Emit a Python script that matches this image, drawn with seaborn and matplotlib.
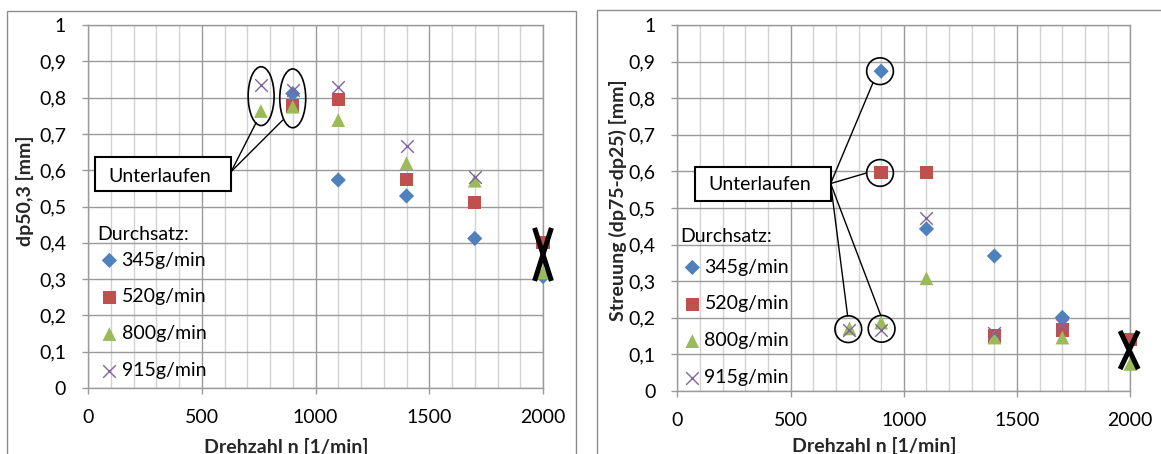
import numpy as np
import pandas as pd
import matplotlib
matplotlib.use('Agg')
import matplotlib.pyplot as plt
import seaborn as sns
from matplotlib.patches import Rectangle, Ellipse

# ---------------- data ----------------
drehzahl = [760, 900, 1100, 1400, 1700, 2000]
series_labels = ['345g/min', '520g/min', '800g/min', '915g/min']

dp50_345 = [np.nan, 0.811, 0.573, 0.529, 0.412, 0.307]
dp50_520 = [np.nan, 0.777, 0.795, 0.575, 0.511, 0.400]
dp50_800 = [0.763, 0.775, 0.738, 0.619, 0.571, 0.318]
dp50_915 = [0.834, 0.822, 0.830, 0.666, 0.582, np.nan]

streu_345 = [np.nan, 0.874, 0.443, 0.369, 0.201, np.nan]
streu_520 = [np.nan, 0.597, 0.597, 0.150, 0.167, 0.141]
streu_800 = [0.171, 0.187, 0.308, 0.146, 0.146, 0.074]
streu_915 = [0.167, 0.168, 0.474, 0.159, 0.180, np.nan]

x_ticks = [0, 500, 1000, 1500, 2000]
y_ticks = [0, 0.1, 0.2, 0.3, 0.4, 0.5, 0.6, 0.7, 0.8, 0.9, 1.0]
y_ticklabels = ['0', '0,1', '0,2', '0,3', '0,4', '0,5', '0,6', '0,7', '0,8', '0,9', '1']

# ---------------- style ----------------
colors = ['#4F81BD', '#C0504D', '#9BBB59', '#8064A2']
markers = ['D', 's', '^', 'x']
msizes = [60, 92, 98, 82]
FS = 14
GRID = '#9a9a9a'
MINOR = '#d2d2d2'

sns.set_theme(style='white')
plt.rcParams['font.family'] = ['Lato', 'DejaVu Sans']
plt.rcParams['text.color'] = 'black'

W, H = 1161, 454
fig = plt.figure(figsize=(W / 100, H / 100), dpi=100)
fig.patch.set_facecolor('white')


def px_axes(x0, x1, ytop, ybot):
    return fig.add_axes([x0 / W, 1 - ybot / H, (x1 - x0) / W, (ybot - ytop) / H])


axL = px_axes(88, 543, 25, 388)
axR = px_axes(677.3, 1130.3, 25.1, 391)

# outer chart frames
fig.patches.append(Rectangle((7 / W, -0.1), 569 / W, 1.1 - 11 / H, transform=fig.transFigure,
                             fill=False, edgecolor='#8c8c8c', lw=1.0))
fig.patches.append(Rectangle((597 / W, -0.1), 600 / W, 1.1 - 10.5 / H, transform=fig.transFigure,
                             fill=False, edgecolor='#8c8c8c', lw=1.0))


def style_axes(ax):
    ax.set_xlim(0, 2000)
    ax.set_ylim(0, 1)
    ax.set_xticks(x_ticks)
    ax.set_xticklabels([str(v) for v in x_ticks])
    ax.set_xticks(np.arange(0, 2001, 100), minor=True)
    ax.set_yticks(y_ticks)
    ax.set_yticklabels(y_ticklabels)
    ax.set_axisbelow(True)
    ax.grid(True, which='minor', axis='x', color=MINOR, lw=1.0)
    ax.grid(True, which='major', axis='both', color=GRID, lw=1.0)
    for sp in ax.spines.values():
        sp.set_visible(True)
        sp.set_color(GRID)
        sp.set_linewidth(1.0)
    ax.tick_params(axis='both', which='major', direction='out', length=4.3, width=1.0,
                   color=GRID, labelsize=FS, labelcolor='black', bottom=True, left=True)
    ax.tick_params(axis='x', which='major', pad=11)
    ax.tick_params(axis='y', which='major', pad=11.5)
    ax.tick_params(axis='x', which='minor', length=0, bottom=False)


def draw_series(ax, values_list):
    for lab, vals, c, m, s in zip(series_labels, values_list, colors, markers, msizes):
        df = pd.DataFrame({'n': drehzahl, 'v': vals}).dropna()
        if m == 'x':
            kw = dict(linewidth=1.0)
        else:
            kw = dict(linewidth=0, edgecolor='none')
        sns.scatterplot(data=df, x='n', y='v', ax=ax, color=c, marker=m, s=s,
                        label=lab, zorder=3, clip_on=False, **kw)


def add_legend(ax, anchor, title_xy):
    ax.text(title_xy[0], title_xy[1], 'Durchsatz:', transform=ax.transAxes,
            ha='left', va='center', fontsize=FS, zorder=6)
    leg = ax.legend(loc='upper left', bbox_to_anchor=anchor, frameon=False, borderpad=0,
                    borderaxespad=0, handlelength=0.75, handletextpad=0.25,
                    labelspacing=1.02, fontsize=FS)
    leg.set_zorder(6)


def big_x(ax, xc, ylo, yhi, half):
    for ya, yb in [(yhi, ylo), (ylo, yhi)]:
        ax.plot([xc - half, xc + half], [ya, yb], color='black', lw=3.6,
                solid_capstyle='butt', zorder=7, clip_on=False)


def callout(ax, box, text_xy, ends, start):
    x0, y0, w, h = box
    ax.add_patch(Rectangle((x0, y0), w, h, fill=True, facecolor='white', edgecolor='black',
                           lw=1.5, zorder=6, clip_on=False))
    ax.text(text_xy[0], text_xy[1], 'Unterlaufen', ha='center', va='center',
            fontsize=FS, zorder=7)
    for ex, ey in ends:
        ax.plot([start[0], ex], [start[1], ey], color='black', lw=1.0, zorder=6, clip_on=False)


# ---------------- left chart ----------------
draw_series(axL, [dp50_345, dp50_520, dp50_800, dp50_915])
style_axes(axL)
axL.set_xlabel('Drehzahl n [1/min]', fontsize=FS, fontweight='bold')
axL.set_ylabel('dp50,3 [mm]', fontsize=FS, fontweight='bold')
axL.xaxis.set_label_coords(0.4367, -0.1777)
axL.xaxis.label.set_va('baseline')
axL.yaxis.set_label_coords(-0.1385, 0.5427)
axL.yaxis.label.set_va('center')
add_legend(axL, (0.031, 0.376), (0.020, 0.424))
for (cx, cy) in [(761, 0.804), (900, 0.798)]:
    axL.add_patch(Ellipse((cx, cy), 114, 0.162, fill=False, edgecolor='black', lw=1.2,
                          zorder=6, clip_on=False))
callout(axL, (31, 0.543, 598, 0.093), (314, 0.584),
        [(739, 0.731), (856, 0.738)], (629, 0.596))
big_x(axL, 2000, 0.295, 0.441, 37)

# ---------------- right chart ----------------
draw_series(axR, [streu_345, streu_520, streu_800, streu_915])
style_axes(axR)
axR.set_xlabel('Drehzahl n [1/min]', fontsize=FS, fontweight='bold')
axR.set_ylabel('Streuung (dp75-dp25) [mm]', fontsize=FS, fontweight='bold')
axR.xaxis.set_label_coords(0.435, -0.168)
axR.xaxis.label.set_va('baseline')
axR.yaxis.set_label_coords(-0.131, 0.522)
axR.yaxis.label.set_va('center')
add_legend(axR, (0.017, 0.362), (0.006, 0.4216))
for (cx, cy) in [(895, 0.874), (895, 0.596), (755, 0.169), (902, 0.170)]:
    axR.add_patch(Ellipse((cx, cy), 118, 0.073, fill=False, edgecolor='black', lw=1.2,
                          zorder=6, clip_on=False))
callout(axR, (78, 0.519, 599, 0.092), (365, 0.563),
        [(863, 0.841), (836, 0.596), (752, 0.205), (898, 0.207)], (677, 0.567))
big_x(axR, 1995, 0.060, 0.164, 40)

fig.savefig('out.png', dpi=100)
